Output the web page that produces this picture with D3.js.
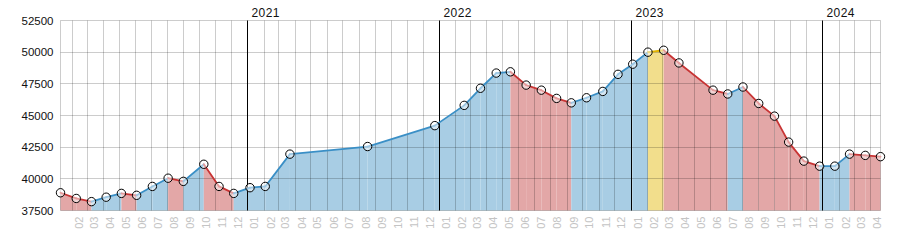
<!DOCTYPE html>
<html>
<head>
<meta charset="utf-8">
<script src="https://cdn.jsdelivr.net/npm/d3@7"></script>
<style>
  body { margin: 0; background: #fff; }
  text { font-family: "Liberation Sans", Arial, sans-serif; }
</style>
</head>
<body>
<div id="chart-area"></div>
<script>
// data
const dates = [
  "2020-01-10", "2020-02-09", "2020-03-09", "2020-04-06", "2020-05-05", "2020-06-03",
  "2020-07-03", "2020-08-02", "2020-08-31", "2020-10-09", "2020-11-07", "2020-12-05",
  "2021-01-05", "2021-02-03", "2021-03-22", "2021-08-17", "2021-12-23", "2022-02-17",
  "2022-03-20", "2022-04-19", "2022-05-16", "2022-06-15", "2022-07-14", "2022-08-12",
  "2022-09-09", "2022-10-08", "2022-11-08", "2022-12-07", "2023-01-04", "2023-02-02",
  "2023-03-04", "2023-04-02", "2023-06-06", "2023-07-04", "2023-08-02", "2023-09-01",
  "2023-10-01", "2023-10-28", "2023-11-26", "2023-12-26", "2024-01-24", "2024-02-21",
  "2024-03-22", "2024-04-20"
]
const values = [
  38900, 38450, 38200, 38550, 38850, 38700,
  39400, 40050, 39800, 41150, 39400, 38850,
  39300, 39400, 41950, 42550, 44200, 45800,
  47150, 48350, 48450, 47400, 47000, 46350,
  46000, 46400, 46900, 48250, 49050, 50000,
  50150, 49150, 47000, 46700, 47250, 45950,
  44950, 42900, 41400, 41000, 41000, 41950,
  41850, 41750
]
const yTicks = [37500, 40000, 42500, 45000, 47500, 50000, 52500]
const monthLabels = ["01", "02", "03", "04", "05", "06", "07", "08", "09", "10", "11", "12"]

const MARGIN = { LEFT: 60, RIGHT: 20, TOP: 20, BOTTOM: 40 }
const WIDTH = 900 - MARGIN.LEFT - MARGIN.RIGHT
const HEIGHT = 250 - MARGIN.TOP - MARGIN.BOTTOM

const COLORS = {
  up:   { fill: "#a8cde4", stroke: "#3a8fc6" },
  down: { fill: "#e3a7a7", stroke: "#c83434" },
  peak: { fill: "#f2de8c", stroke: "#e2b400" }
}

const parse = d3.timeParse("%Y-%m-%d")
const data = dates.map((d, i) => ({ date: parse(d), value: values[i] }))

const svg = d3.select("#chart-area").append("svg")
  .attr("width", 900)
  .attr("height", 250)

const g = svg.append("g")
  .attr("transform", `translate(${MARGIN.LEFT + 0.5}, ${MARGIN.TOP + 0.5})`)

const x = d3.scaleTime()
  .domain(d3.extent(data, d => d.date))
  .range([0, WIDTH])

const y = d3.scaleLinear()
  .domain([37500, 52500])
  .range([HEIGHT, 0])

// segments between consecutive points, coloured by direction
const maxV = d3.max(values)
const segments = d3.pairs(data).map(([a, b]) => {
  let kind = b.value >= a.value ? "up" : "down"
  if (b.value === maxV) kind = "peak"
  return { a, b, kind }
})

const area = d3.area()
  .x(d => x(d.date))
  .y0(HEIGHT)
  .y1(d => y(d.value))

g.selectAll(".seg-fill")
  .data(segments)
  .enter().append("path")
  .attr("class", "seg-fill")
  .attr("d", s => area([s.a, s.b]))
  .attr("fill", s => COLORS[s.kind].fill)

// grid
const months = d3.timeMonth.range(d3.timeMonth.ceil(x.domain()[0]), x.domain()[1])
const GRID = "rgba(0,0,0,0.2)"

g.selectAll(".hgrid")
  .data(yTicks)
  .enter().append("line")
  .attr("x1", 0)
  .attr("x2", WIDTH)
  .attr("y1", d => Math.round(y(d)))
  .attr("y2", d => Math.round(y(d)))
  .attr("stroke", GRID)

g.selectAll(".vgrid")
  .data(months.filter(m => m.getMonth() !== 0).concat(x.domain()))
  .enter().append("line")
  .attr("x1", d => Math.round(x(d)))
  .attr("x2", d => Math.round(x(d)))
  .attr("y1", 0)
  .attr("y2", HEIGHT)
  .attr("stroke", GRID)

const years = months.filter(m => m.getMonth() === 0)
g.selectAll(".year-line")
  .data(years)
  .enter().append("line")
  .attr("x1", d => Math.round(x(d)))
  .attr("x2", d => Math.round(x(d)))
  .attr("y1", 0)
  .attr("y2", HEIGHT)
  .attr("stroke", "#000")

// year labels
g.selectAll(".year-label")
  .data(years)
  .enter().append("text")
  .attr("x", d => Math.round(x(d)) + 4)
  .attr("y", -3.5)
  .attr("font-family", "DejaVu Sans")
  .attr("font-size", 12)
  .attr("letter-spacing", 0.4)
  .attr("fill", "#111")
  .text(d => d.getFullYear())

// month labels
g.selectAll(".month-label")
  .data(months)
  .enter().append("text")
  .attr("transform", d => `translate(${Math.round(x(d)) + 7}, ${HEIGHT + 6}) rotate(-90)`)
  .attr("text-anchor", "end")
  .attr("dy", "0.36em")
  .attr("font-size", 11)
  .attr("fill", "#c4c4c4")
  .text(d => monthLabels[d.getMonth()])

// y labels
g.selectAll(".y-label")
  .data(yTicks)
  .enter().append("text")
  .attr("x", -7)
  .attr("y", d => y(d))
  .attr("dy", "0.36em")
  .attr("text-anchor", "end")
  .attr("font-size", 11.5)
  .attr("fill", "#111")
  .text(d => d)

// line segments
g.selectAll(".seg-line")
  .data(segments)
  .enter().append("line")
  .attr("x1", s => x(s.a.date))
  .attr("y1", s => y(s.a.value))
  .attr("x2", s => x(s.b.date))
  .attr("y2", s => y(s.b.value))
  .attr("stroke", s => COLORS[s.kind].stroke)
  .attr("stroke-width", 1.8)
  .attr("stroke-linecap", "round")

// markers
g.selectAll(".marker")
  .data(data)
  .enter().append("circle")
  .attr("cx", d => x(d.date))
  .attr("cy", d => y(d.value))
  .attr("r", 4.2)
  .attr("fill", "#fff")
  .attr("fill-opacity", 0.5)
  .attr("stroke", "#000")
  .attr("stroke-width", 1)
</script>
</body>
</html>
